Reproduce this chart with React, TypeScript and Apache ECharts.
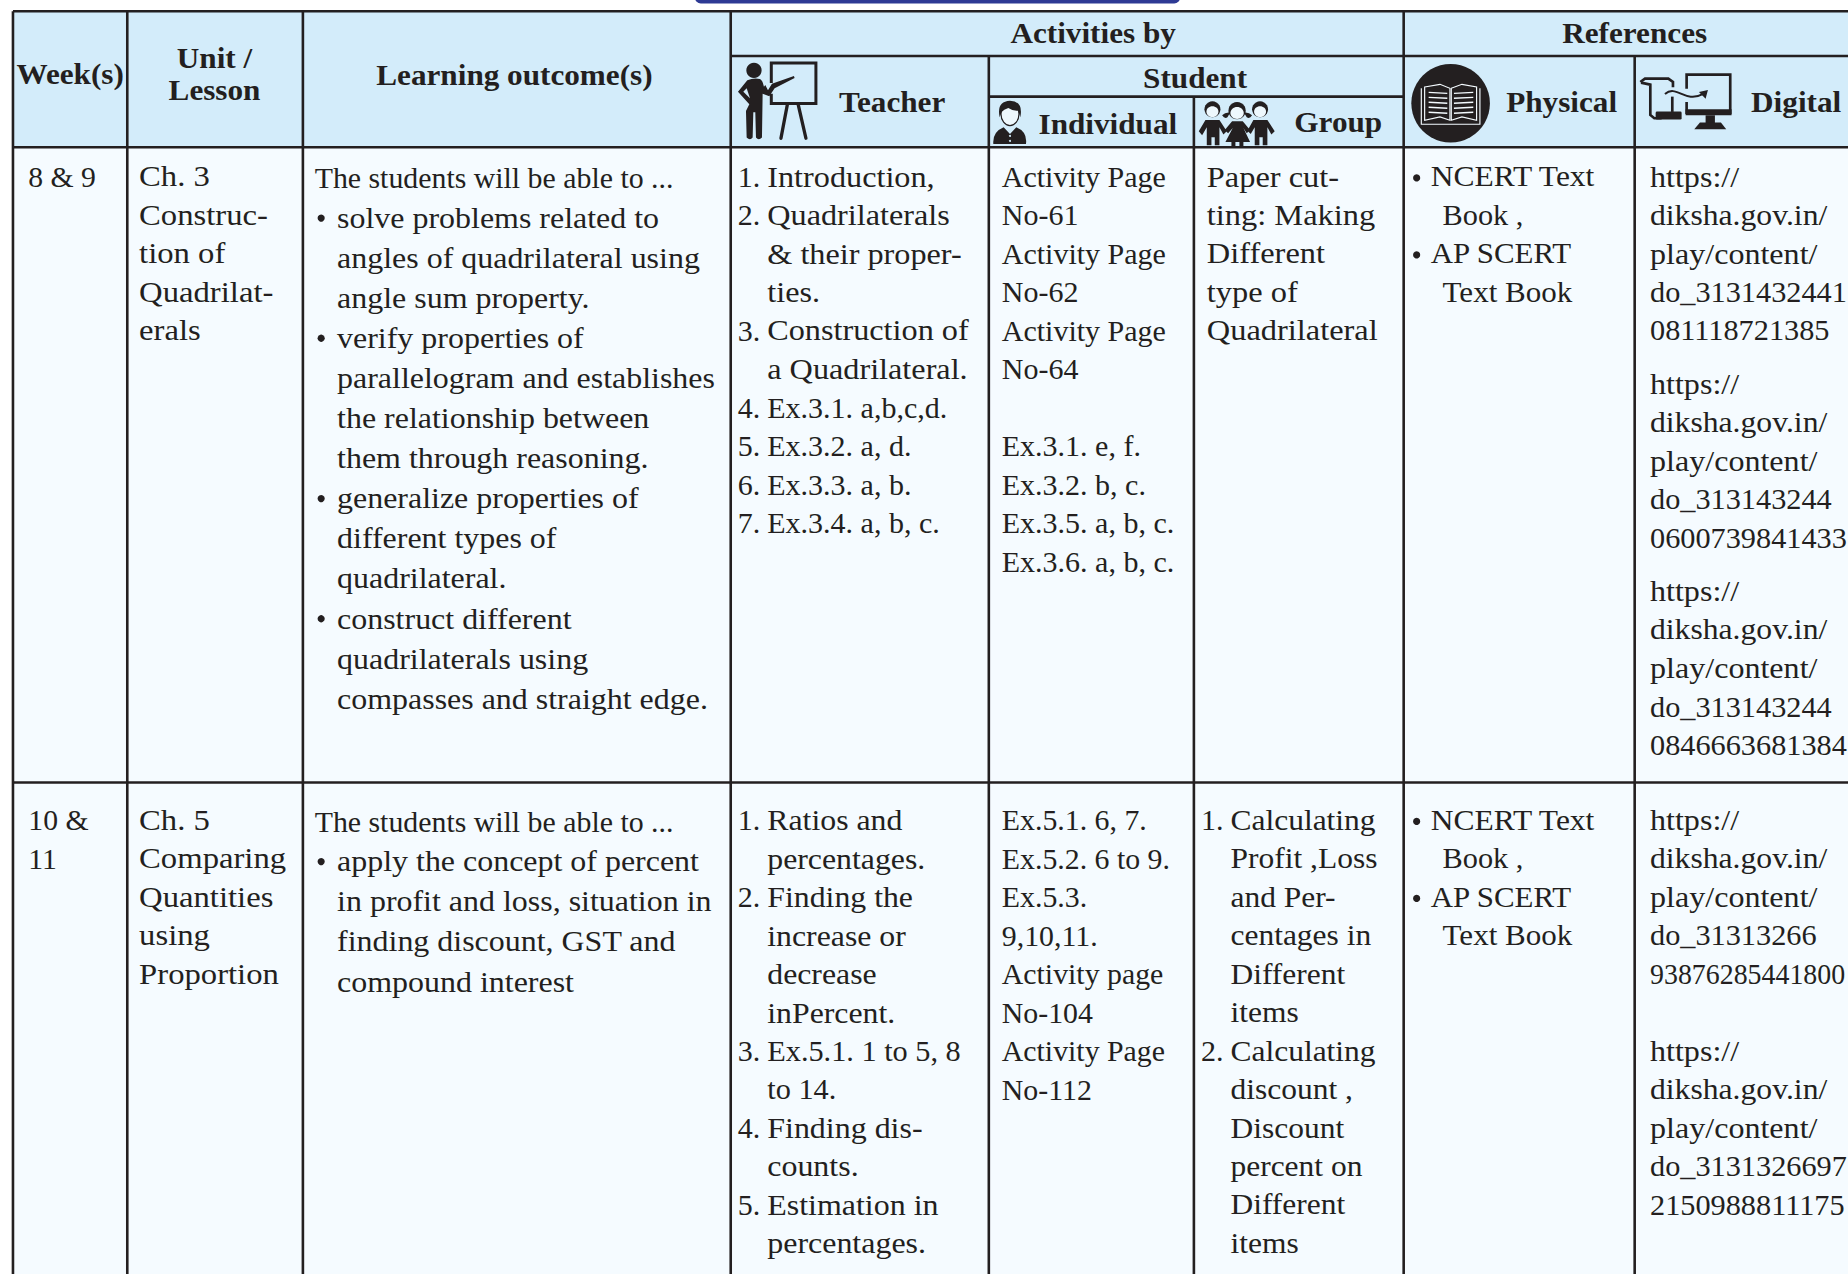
import React, { useEffect, useRef } from "react";
import * as echarts from "echarts";

const S = 1848 / 1568;
const INK = "#231f20";
const HEAD_BG = "#d3ecfa";
const BODY_BG = "#f5fbff";
const FONT = "'Liberation Serif'";

// Table rules, in reference-thumbnail units
const colX = [11, 108, 257, 620, 839, 1013, 1191, 1387];
const rowY = [9.5, 47.5, 82, 125, 664];

const topHeaders = [
  { text: "Week(s)", cx: 59.5, y: 63 },
  { text: "Unit /", cx: 182, y: 49.5 },
  { text: "Lesson", cx: 182, y: 76.5 },
  { text: "Learning outcome(s)", cx: 436.5, y: 64 },
  { text: "Activities by", cx: 927.5, y: 28.5 },
  { text: "References", cx: 1387, y: 28.5 },
  { text: "Teacher", cx: 757, y: 87 },
  { text: "Student", cx: 1014, y: 66 },
  { text: "Individual", cx: 940, y: 105.5 },
  { text: "Group", cx: 1135.5, y: 103.5 },
  { text: "Physical", cx: 1325, y: 87 },
  { text: "Digital", cx: 1524, y: 87 },
];

const STEP = 32.65;
const OUT = 34;

const weekBlocks = [
  { x: 24, y: 150, step: STEP, scale: 0.99, lines: ["8 & 9"] },
  { x: 24, y: 696, step: STEP, scale: 0.99, lines: ["10 &", "11"] },
];
const unitBlocks = [
  { x: 118, y: 150, step: STEP, scale: 1.09, lines: ["Ch. 3", "Construc-", "tion of", "Quadrilat-", "erals"] },
  { x: 118, y: 696, step: STEP, scale: 1.09, lines: ["Ch. 5", "Comparing", "Quantities", "using", "Proportion"] },
];
const outcomeBlocks = [
  { x: 267, y: 151, step: OUT, scale: 0.995, lines: ["The students will be able to ..."] },
  { x: 286, y: 185, step: OUT, scale: 1.065, lines: ["solve problems related to", "angles of quadrilateral using", "angle sum property.", "verify properties of", "parallelogram and establishes", "the relationship between", "them through reasoning.", "generalize properties of", "different types of", "quadrilateral.", "construct different", "quadrilaterals using", "compasses and straight edge."] },
  { x: 267, y: 697, step: OUT, scale: 0.995, lines: ["The students will be able to ..."] },
  { x: 286, y: 731, step: OUT, scale: 1.065, lines: ["apply the concept of percent", "in profit and loss, situation in", "finding discount, GST and", "compound interest"] },
];
const outcomeBullets = [185, 287, 423, 525, 731];

const teacherNumbers = [
  { y: 150, lines: ["1.", "2.", "", "", "3.", "", "4.", "5.", "6.", "7."] },
  { y: 696, lines: ["1.", "", "2.", "", "", "", "3.", "", "4.", "", "5.", ""] },
];
const teacherBlocks = [
  { x: 651, y: 150, step: STEP, scale: 1.075, lines: ["Introduction,", "Quadrilaterals", "& their proper-", "ties.", "Construction of", "a Quadrilateral."] },
  { x: 651, y: 150 + 6 * STEP, step: STEP, scale: 1.0, lines: ["Ex.3.1. a,b,c,d.", "Ex.3.2. a, d.", "Ex.3.3. a, b.", "Ex.3.4. a, b, c."] },
  { x: 651, y: 696, step: STEP, scale: 1.06, lines: ["Ratios and", "percentages.", "Finding the", "increase or", "decrease", "inPercent."] },
  { x: 651, y: 696 + 6 * STEP, step: STEP, scale: 1.01, lines: ["Ex.5.1. 1 to 5, 8", "to 14."] },
  { x: 651, y: 696 + 8 * STEP, step: STEP, scale: 1.065, lines: ["Finding dis-", "counts.", "Estimation in", "percentages."] },
];
const individualBlocks = [
  { x: 850, y: 150, step: STEP, scale: 1.0, lines: ["Activity Page", "No-61", "Activity Page", "No-62", "Activity Page", "No-64", "", "Ex.3.1. e, f.", "Ex.3.2. b, c.", "Ex.3.5. a, b, c.", "Ex.3.6. a, b, c."] },
  { x: 850, y: 696, step: STEP, scale: 0.995, lines: ["Ex.5.1. 6, 7.", "Ex.5.2. 6 to 9.", "Ex.5.3.", "9,10,11.", "Activity page", "No-104", "Activity Page", "No-112"] },
];
const groupBlocks = [
  { x: 1024, y: 150, step: STEP, scale: 1.08, lines: ["Paper cut-", "ting: Making", "Different", "type of", "Quadrilateral"] },
  { x: 1044, y: 696, step: STEP, scale: 1.05, lines: ["Calculating", "Profit ,Loss", "and Per-", "centages in", "Different", "items", "Calculating", "discount ,", "Discount", "percent on", "Different", "items"] },
];
const groupNumbers = [
  { y: 696, lines: ["1.", "", "", "", "", "", "2."] },
];
const physicalRows = [150, 696];
const physicalFirst = ["NCERT Text", "AP SCERT"];
const physicalSecond = ["Book ,", "Text Book"];

const linkHead = ["https://", "diksha.gov.in/", "play/content/"];
const digitalBlocks = [
  { y: 150, lines: ["do_3131432441", "081118721385"] },
  { y: 326, lines: ["do_313143244", "0600739841433"] },
  { y: 502, lines: ["do_313143244", "0846663681384"] },
  { y: 696, lines: ["do_31313266", "93876285441800"] },
  { y: 892, lines: ["do_3131326697", "2150988811175"] },
];
const LONG_ID = "93876285441800";

const BODY_SIZE = 30;
const HEAD_SIZE = 30;
const HEAD_SCALE = 1.04;
const LIFT = 0.3;

function bodyText(text: string, x: number, y: number, scale = 1) {
  return {
    type: "text", x: x * S, y: (y - LIFT) * S, scaleX: scale, silent: true,
    style: { text, fontSize: BODY_SIZE, fontFamily: FONT, fill: INK, textAlign: "left", textVerticalAlign: "middle" },
  };
}
function headText(text: string, cx: number, y: number) {
  return {
    type: "text", x: cx * S, y: y * S, scaleX: HEAD_SCALE, silent: true,
    style: { text, fontSize: HEAD_SIZE, fontWeight: "bold", fontFamily: FONT, fill: INK, textAlign: "center", textVerticalAlign: "middle" },
  };
}
function blocks(list: { x: number; y: number; step: number; scale: number; lines: string[] }[]) {
  const out: any[] = [];
  list.forEach((b) => b.lines.forEach((l, i) => { if (l) out.push(bodyText(l, b.x, b.y + i * b.step, b.scale)); }));
  return out;
}
function numbers(list: { y: number; lines: string[] }[], x: number) {
  return blocks(list.map((n) => ({ x, y: n.y, step: STEP, scale: 1, lines: n.lines })));
}
function digital() {
  const out: any[] = [];
  digitalBlocks.forEach((b) => {
    linkHead.forEach((l, i) => out.push(bodyText(l, 1400, b.y + i * STEP, i === 1 ? 1.055 : 1.07)));
    b.lines.forEach((l, i) => out.push(bodyText(l, 1400, b.y + (3 + i) * STEP, l === LONG_ID ? 0.93 : 1.01)));
  });
  return out;
}
function dot(x: number, y: number) {
  return { type: "circle", shape: { cx: x * S, cy: y * S, r: 3.6 }, style: { fill: INK }, silent: true };
}
function rule(x1: number, y1: number, x2: number, y2: number) {
  return { type: "line", shape: { x1, y1, x2, y2 }, style: { stroke: INK, lineWidth: 2.6 }, silent: true };
}
function iconGroup(x: number, y: number, children: any[]) {
  return { type: "group", x, y, scaleX: 1 / 3, scaleY: 1 / 3, silent: true, children };
}

echarts.graphic.registerShape("iconTeacher", echarts.graphic.extendPath(
  "M52 76 Q70 68 90 72 Q98 76 102 95 L106 90 L114 106 L126 86 L192 63 L194 69 L134 100 L118 124 L98 116 L96 248 Q86 258 78 248 L76 172 L70 172 L68 248 Q60 258 50 248 L48 168 L58 148 L24 110 L52 76 Z", {}));
echarts.graphic.registerShape("iconHipGap", echarts.graphic.extendPath(
  "M50 100 L40 110 L60 130 Z", {}));
echarts.graphic.registerShape("iconHair", echarts.graphic.extendPath(
  "M44 76 Q34 28 75 26 Q116 28 106 76 L100 56 Q85 58 70 48 Q56 52 50 60 Z", {}));
echarts.graphic.registerShape("iconSuit", echarts.graphic.extendPath(
  "M25 156 Q22 120 56 106 L75 126 L94 106 Q128 120 123 156 Z", {}));
echarts.graphic.registerShape("iconKids", echarts.graphic.extendPath(
  "M662 84 L704 84 L726 118 L716 128 L704 106 L704 160 L690 160 L690 136 L680 136 L680 160 L666 160 L666 106 L652 130 L642 118 Z" +
  "M742 88 L774 88 L796 114 L786 124 L776 108 L796 150 L776 150 L776 162 L764 162 L764 150 L752 150 L752 162 L740 162 L740 150 L722 150 L744 108 L730 124 L720 114 Z" +
  "M806 84 L848 84 L870 118 L860 128 L848 106 L848 160 L834 160 L834 136 L824 136 L824 160 L810 160 L810 106 L798 126 L788 116 Z" +
  "M712 70 Q722 60 736 62 L728 76 Q720 82 712 70 Z M778 62 Q792 60 802 70 Q795 82 786 76 Z", {}));

function teacherIcon() {
  const s = { stroke: INK, lineWidth: 9, fill: "none" };
  return iconGroup(730, 55, [
    { type: "circle", shape: { cx: 72, cy: 46, r: 23 }, style: { fill: INK } },
    { type: "polyline", shape: { points: [[124, 84], [124, 24], [258, 24], [258, 146], [124, 146], [124, 116]] }, style: s },
    { type: "line", shape: { x1: 172, y1: 150, x2: 153, y2: 250 }, style: { ...s, lineWidth: 10, lineCap: "round" } },
    { type: "line", shape: { x1: 205, y1: 150, x2: 228, y2: 250 }, style: { ...s, lineWidth: 10, lineCap: "round" } },
    { type: "iconTeacher", style: { fill: INK } },
    { type: "iconHipGap", style: { fill: HEAD_BG } },
  ]);
}
function individualIcon() {
  return iconGroup(985, 92, [
    { type: "ellipse", shape: { cx: 75, cy: 66, rx: 27, ry: 35 }, style: { fill: "#eef8fd", stroke: INK, lineWidth: 3.5 } },
    { type: "iconHair", style: { fill: INK } },
    { type: "iconSuit", style: { fill: INK } },
    { type: "circle", shape: { cx: 75, cy: 132, r: 3 }, style: { fill: HEAD_BG } },
    { type: "circle", shape: { cx: 75, cy: 147, r: 3 }, style: { fill: HEAD_BG } },
  ]);
}
function groupIcon() {
  const head = (cx: number, cy: number, r: number) => [
    { type: "circle", shape: { cx, cy, r }, style: { fill: INK } },
    { type: "ellipse", shape: { cx, cy: cy + 7, rx: r - 6, ry: r - 8 }, style: { fill: "#eef8fd" } },
  ];
  return iconGroup(985, 92, [
    { type: "iconKids", style: { fill: INK } },
    ...head(683, 52, 24), ...head(757, 56, 26), ...head(826, 52, 24),
  ]);
}
function bookIcon() {
  const page = { stroke: "#f4fbff", lineWidth: 3.5, fill: "none" };
  const rows = [112, 127, 142, 157, 172];
  return iconGroup(1400, 55, [
    { type: "circle", shape: { cx: 152, cy: 145, r: 118 }, style: { fill: INK } },
    { type: "polyline", shape: { points: [[64, 100], [64, 208], [240, 208], [240, 100]] }, style: page },
    { type: "polygon", shape: { points: [[74, 96], [120, 88], [150, 100], [150, 196], [120, 186], [74, 196]] }, style: page },
    { type: "polygon", shape: { points: [[154, 100], [186, 88], [230, 96], [230, 196], [186, 186], [154, 196]] }, style: page },
    ...rows.flatMap((y) => [
      { type: "line", shape: { x1: 86, y1: y, x2: 142, y2: y + 3 }, style: { ...page, lineWidth: 4 } },
      { type: "line", shape: { x1: 162, y1: y + 3, x2: 220, y2: y }, style: { ...page, lineWidth: 4 } },
    ]),
  ]);
}
function digitalIcon() {
  const s = { stroke: INK, lineWidth: 8, fill: "none" };
  return iconGroup(1635, 60, [
    { type: "polyline", shape: { points: [[16, 66], [30, 56], [100, 56], [114, 66], [114, 82]] }, style: s },
    { type: "polyline", shape: { points: [[18, 68], [46, 74], [46, 165], [58, 175], [80, 175]] }, style: s },
    { type: "rect", shape: { x: 62, y: 155, width: 78, height: 24, r: 4 }, style: { fill: INK } },
    { type: "line", shape: { x1: 112, y1: 110, x2: 112, y2: 156 }, style: s },
    { type: "polyline", shape: { points: [[155, 86], [155, 44], [286, 44], [286, 158], [155, 158], [155, 126]] }, style: s },
    { type: "rect", shape: { x: 152, y: 148, width: 138, height: 18 }, style: { fill: INK } },
    { type: "rect", shape: { x: 212, y: 166, width: 28, height: 24 }, style: { fill: INK } },
    { type: "polygon", shape: { points: [[178, 208], [195, 188], [258, 188], [274, 208]] }, style: { fill: INK } },
    { type: "bezierCurve", shape: { x1: 90, y1: 102, cpx1: 125, cpy1: 72, cpx2: 150, cpy2: 132, x2: 205, y2: 102 }, style: { stroke: HEAD_BG, lineWidth: 14, fill: "none" } },
    { type: "bezierCurve", shape: { x1: 90, y1: 102, cpx1: 125, cpy1: 72, cpx2: 150, cpy2: 132, x2: 205, y2: 102 }, style: { stroke: INK, lineWidth: 6, fill: "none" } },
    { type: "polygon", shape: { points: [[219, 90], [212, 116], [192, 96]] }, style: { fill: INK } },
  ]);
}

function buildElements() {
  const W = 1848, H = 1274;
  const [l, a, b, c, d, e, f, g] = colX.map((v) => v * S);
  const [t, y1, y2, y3, y4] = rowY.map((v) => v * S);
  return [
    { type: "rect", shape: { x: 0, y: 0, width: W, height: H }, style: { fill: "#ffffff" }, silent: true },
    { type: "rect", shape: { x: 695, y: -8, width: 485, height: 11.5, r: 6 }, style: { fill: "#2e3a94" }, silent: true },
    { type: "rect", shape: { x: l, y: t, width: W - l, height: y3 - t }, style: { fill: HEAD_BG }, silent: true },
    { type: "rect", shape: { x: l, y: y3, width: W - l, height: H - y3 }, style: { fill: BODY_BG }, silent: true },
    rule(l, t, W, t),
    rule(c, y1, W, y1),
    rule(d, y2, f, y2),
    rule(l, y3, W, y3),
    rule(l, y4, W, y4),
    rule(l, t, l, H),
    rule(a, t, a, H),
    rule(b, t, b, H),
    rule(c, t, c, H),
    rule(d, y1, d, H),
    rule(e, y2, e, H),
    rule(f, t, f, H),
    rule(g, y1, g, H),
    ...topHeaders.map((h) => headText(h.text, h.cx, h.y)),
    teacherIcon(), individualIcon(), groupIcon(), bookIcon(), digitalIcon(),
    ...blocks(weekBlocks), ...blocks(unitBlocks), ...blocks(outcomeBlocks),
    ...outcomeBullets.map((y) => dot(272.5, y)),
    ...numbers(teacherNumbers, 626), ...blocks(teacherBlocks),
    ...blocks(individualBlocks), ...blocks(groupBlocks), ...numbers(groupNumbers, 1019),
    ...physicalRows.flatMap((y) => [
      dot(1202, y + 1), dot(1202, y + 2 * STEP + 1),
      bodyText(physicalFirst[0], 1214, y, 1.05), bodyText(physicalSecond[0], 1224, y + STEP, 1.01),
      bodyText(physicalFirst[1], 1214, y + 2 * STEP, 1.03), bodyText(physicalSecond[1], 1224, y + 3 * STEP, 1.035),
    ]),
    ...digital(),
  ];
}

export default function App() {
  const ref = useRef<HTMLDivElement>(null);
  useEffect(() => {
    document.body.style.margin = "0";
    const chart = echarts.init(ref.current!, undefined, { renderer: "svg" });
    chart.setOption({ animation: false, graphic: { elements: buildElements() } });
    return () => chart.dispose();
  }, []);
  return <div ref={ref} style={{ width: 1848, height: 1274, overflow: "hidden" }} />;
}
